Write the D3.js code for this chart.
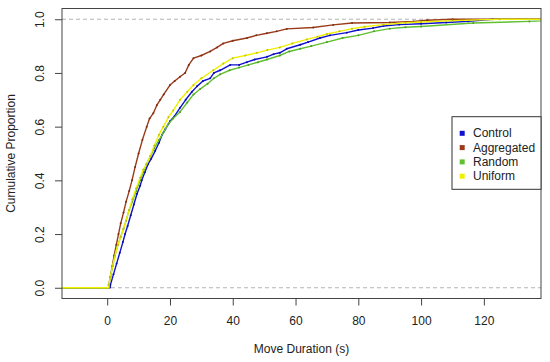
<!DOCTYPE html>
<html>
<head>
<meta charset="utf-8">
<script src="https://cdnjs.cloudflare.com/ajax/libs/d3/7.8.5/d3.min.js"></script>
<style>
  body { margin: 0; background: #fff; }
  text { font-family: "Liberation Sans", Arial, sans-serif; fill: #222; }
</style>
</head>
<body>
<div id="chart"></div>
<script>
// ECDF knots: move duration (s) and cumulative proportion
var controlX = [1.0, 2.0, 3.0, 4.0, 5.0, 5.7, 6.5, 7.5, 8.5, 9.5, 10.5, 11.0, 12.0, 13.0, 14.0, 15.3, 16.5, 17.5, 18.5, 20.0,
    21.5, 23.2, 25.0, 27.0, 28.6, 30.5, 32.8, 34.0, 36.0, 39.2, 42.0, 44.5, 47.0, 50.9, 53.0, 55.0, 57.2, 61.5, 64.0, 67.8,
    71.0, 76.3, 80.0, 84.7, 88.0, 93.0, 100.0, 108.0, 115.0, 122.8];
var controlP = [0.01, 0.05, 0.09, 0.13, 0.17, 0.20, 0.23, 0.27, 0.31, 0.35, 0.38, 0.40, 0.43, 0.46, 0.48, 0.51, 0.54, 0.57, 0.59, 0.62,
    0.64, 0.67, 0.70, 0.73, 0.75, 0.77, 0.78, 0.80, 0.81, 0.83, 0.83, 0.84, 0.85, 0.86, 0.87, 0.875, 0.89, 0.905, 0.915, 0.93,
    0.94, 0.95, 0.96, 0.967, 0.975, 0.98, 0.983, 0.988, 0.992, 1.0];

var aggregatedX = [0.5, 1.0, 1.6, 2.2, 2.9, 3.6, 4.3, 5.2, 6.0, 7.0, 7.9, 8.9, 10.0, 11.2, 12.6, 13.5, 14.7, 15.8, 16.9, 18.0,
    20.0, 21.5, 23.2, 24.8, 26.0, 27.5, 30.0, 32.8, 35.0, 37.0, 40.0, 44.5, 47.5, 50.9, 54.0, 57.2, 65.6, 72.0, 78.0, 90.0,
    97.5, 102.0, 110.0];
var aggregatedP = [0.01, 0.04, 0.08, 0.12, 0.16, 0.20, 0.24, 0.28, 0.32, 0.36, 0.40, 0.45, 0.50, 0.55, 0.60, 0.63, 0.65, 0.68, 0.70, 0.72,
    0.755, 0.77, 0.786, 0.80, 0.83, 0.855, 0.865, 0.88, 0.895, 0.91, 0.92, 0.93, 0.94, 0.948, 0.955, 0.964, 0.969, 0.979, 0.986, 0.988,
    0.992, 0.996, 1.0];

var randomX = [0.5, 1.0, 1.7, 2.5, 3.4, 4.3, 5.2, 6.0, 7.0, 8.0, 9.2, 10.5, 11.5, 12.5, 13.8, 15.0, 16.5, 18.0, 19.5, 21.0,
    23.2, 25.5, 27.5, 29.6, 32.0, 34.0, 36.0, 39.0, 42.0, 45.0, 48.0, 50.9, 55.0, 58.0, 61.5, 65.0, 70.0, 75.0, 80.0, 85.0,
    90.0, 95.0, 100.0, 116.6, 134.5, 150.0];
var randomP = [0.01, 0.04, 0.08, 0.12, 0.16, 0.19, 0.22, 0.25, 0.29, 0.32, 0.36, 0.40, 0.43, 0.46, 0.49, 0.52, 0.55, 0.58, 0.61, 0.63,
    0.655, 0.69, 0.72, 0.74, 0.76, 0.78, 0.795, 0.81, 0.82, 0.83, 0.84, 0.85, 0.865, 0.88, 0.89, 0.90, 0.915, 0.93, 0.94, 0.955,
    0.965, 0.97, 0.973, 0.986, 0.992, 1.0];

var uniformX = [0.5, 1.0, 1.7, 2.5, 3.4, 4.3, 5.2, 6.0, 7.0, 8.0, 9.2, 10.5, 11.5, 12.5, 13.7, 15.0, 16.5, 17.9, 19.5, 21.0,
    23.2, 25.5, 27.5, 30.0, 33.8, 37.0, 40.0, 44.0, 47.7, 51.0, 55.0, 59.0, 63.6, 67.0, 70.0, 74.0, 78.0, 82.0, 88.0, 95.0,
    100.0, 110.0, 125.0];
var uniformP = [0.01, 0.04, 0.08, 0.12, 0.16, 0.19, 0.22, 0.25, 0.29, 0.33, 0.37, 0.41, 0.44, 0.46, 0.49, 0.53, 0.57, 0.60, 0.635, 0.66,
    0.70, 0.73, 0.755, 0.78, 0.81, 0.835, 0.855, 0.865, 0.875, 0.885, 0.895, 0.91, 0.925, 0.935, 0.945, 0.955, 0.965, 0.972, 0.98, 0.987,
    0.99, 0.995, 1.0];

var groupNames = ["Control", "Aggregated", "Random", "Uniform"];
var groupColors = ["#1010d0", "#9a3a1a", "#60c030", "#eef000"];
var xTicks = [0, 20, 40, 60, 80, 100, 120];
var yTicks = [0.0, 0.2, 0.4, 0.6, 0.8, 1.0];

var groups = [
    {name: groupNames[0], color: groupColors[0], x: controlX, p: controlP},
    {name: groupNames[1], color: groupColors[1], x: aggregatedX, p: aggregatedP},
    {name: groupNames[2], color: groupColors[2], x: randomX, p: randomP},
    {name: groupNames[3], color: groupColors[3], x: uniformX, p: uniformP}
];

var width = 550, height = 362;
var box = {left: 62, right: 541, top: 8.5, bottom: 298.5};

var svg = d3.select("#chart").append("svg")
    .attr("width", width)
    .attr("height", height);

// R style: 4% padding on both axes
var xScale = d3.scaleLinear().domain([-14.4, 138.2]).range([box.left, box.right]);
var yScale = d3.scaleLinear().domain([-0.04, 1.04]).range([box.bottom, box.top]);

svg.append("clipPath").attr("id", "plotClip")
    .append("rect")
    .attr("x", box.left).attr("y", box.top)
    .attr("width", box.right - box.left).attr("height", box.bottom - box.top);

var plot = svg.append("g").attr("clip-path", "url(#plotClip)");

// dashed reference lines at 0 and 1
[0, 1].forEach(function(v) {
    plot.append("line")
        .attr("x1", box.left).attr("x2", box.right)
        .attr("y1", yScale(v)).attr("y2", yScale(v))
        .style("stroke", "#b3b3b3")
        .style("stroke-dasharray", "4,3");
});

// knots are dense, so join them straight; flat tails out to the frame
var line = d3.line()
    .x(function(d) { return xScale(d[0]); })
    .y(function(d) { return yScale(d[1]); });

groups.forEach(function(g) {
    var knots = g.x.map(function(v, i) { return [v, g.p[i]]; });
    var pts = [[-14.4, 0], [g.x[0], 0]].concat(knots);
    pts.push([138.2, g.p[g.p.length - 1]]);

    plot.append("path")
        .datum(pts)
        .attr("d", line)
        .style("fill", "none")
        .style("stroke", g.color)
        .style("stroke-width", 1.4)
        .style("stroke-linejoin", "round");

    plot.selectAll(null)
        .data(knots)
        .enter().append("circle")
        .attr("cx", function(d) { return xScale(d[0]); })
        .attr("cy", function(d) { return yScale(d[1]); })
        .attr("r", 1)
        .style("fill", d3.color(g.color).darker(0.6));
});

// plot frame
svg.append("rect")
    .attr("x", box.left).attr("y", box.top)
    .attr("width", box.right - box.left).attr("height", box.bottom - box.top)
    .style("fill", "none")
    .style("stroke", "#444");

// axes
var xAxis = svg.append("g")
    .attr("transform", "translate(0," + box.bottom + ")")
    .call(d3.axisBottom(xScale).tickValues(xTicks).tickSize(7).tickPadding(11).tickFormat(d3.format("d")));

var yAxis = svg.append("g")
    .attr("transform", "translate(" + box.left + ",0)")
    .call(d3.axisLeft(yScale).tickValues(yTicks).tickSize(7).tickFormat(d3.format(".1f")));

[xAxis, yAxis].forEach(function(a) {
    a.select(".domain").remove();
    a.selectAll(".tick line").style("stroke", "#444");
    a.selectAll(".tick text").style("font-size", "12px").attr("fill", "#222");
});

yAxis.selectAll(".tick text")
    .attr("x", 0).attr("dy", 0)
    .style("text-anchor", "middle")
    .attr("transform", "translate(-18.5,0)rotate(-90)");

// axis titles
svg.append("text")
    .attr("x", (box.left + box.right) / 2)
    .attr("y", 353)
    .style("text-anchor", "middle")
    .style("font-size", "12px")
    .text("Move Duration (s)");

svg.append("text")
    .attr("transform", "translate(15," + ((box.top + box.bottom) / 2) + ")rotate(-90)")
    .style("text-anchor", "middle")
    .style("font-size", "12px")
    .text("Cumulative Proportion");

// legend
var legend = svg.append("g").attr("transform", "translate(452,116.7)");
legend.append("rect")
    .attr("width", 89).attr("height", 72.6)
    .style("fill", "#fff")
    .style("stroke", "#333");

groups.forEach(function(g, i) {
    var y = 16.6 + i * 14.3;
    legend.append("rect")
        .attr("x", 7.7).attr("y", y - 2.5)
        .attr("width", 5).attr("height", 5)
        .style("fill", g.color);
    legend.append("text")
        .attr("x", 21).attr("y", y + 4.2)
        .style("font-size", "12px")
        .text(g.name);
});
</script>
</body>
</html>
